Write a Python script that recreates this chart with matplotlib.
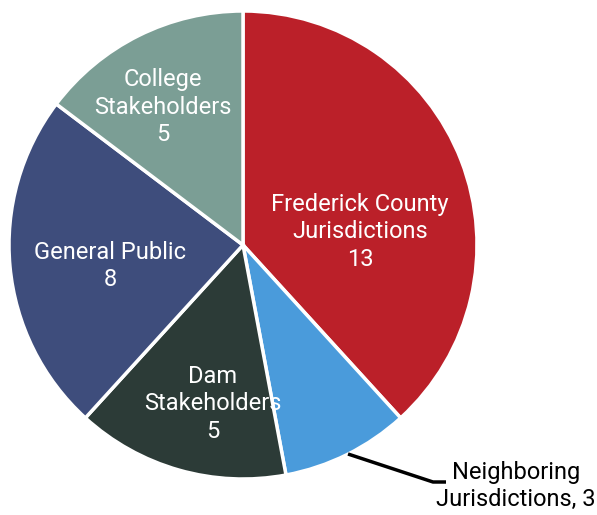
import matplotlib.pyplot as plt

plt.rcParams['font.family'] = ['Roboto', 'DejaVu Sans']

groups = ['Frederick County\nJurisdictions', 'Neighboring\nJurisdictions', 'Dam\nStakeholders',
          'General Public', 'College\nStakeholders']
counts = [13, 3, 5, 8, 5]
colors = ['#BB2029', '#4A9BDB', '#2C3B37', '#3E4D7C', '#7B9E95']

W, H = 597, 515
fig = plt.figure(figsize=(W / 100, H / 100), dpi=100)
ax = fig.add_axes([0, 0, 1, 1])

cx, cy, r = 243, H - 245, 234
wedges, _ = ax.pie(counts, colors=colors, startangle=90, counterclock=False,
                   center=(cx, cy), radius=r, frame=True,
                   wedgeprops=dict(edgecolor='white', linewidth=2.5))
ax.set_xlim(0, W)
ax.set_ylim(0, H)
ax.set_aspect('equal')
ax.axis('off')

# in-slice labels (pixel positions of label centres)
label_pos = {0: (360, 232), 2: (213, 404), 3: (110, 266), 4: (163, 107)}
for i, (px, py) in label_pos.items():
    ax.text(px, H - py, f'{groups[i]}\n{counts[i]}', ha='center', va='center',
            color='white', fontsize=17, linespacing=1.27)

# outside label for the small slice
ax.plot([348, 433, 446], [H - 454, H - 482, H - 482], color='black', lw=2.5,
        solid_capstyle='butt')
ax.text(516, H - 486, f'{groups[1]}, {counts[1]}', ha='center', va='center',
        color='black', fontsize=17, linespacing=1.27)

fig.savefig('out.png', dpi=100)
